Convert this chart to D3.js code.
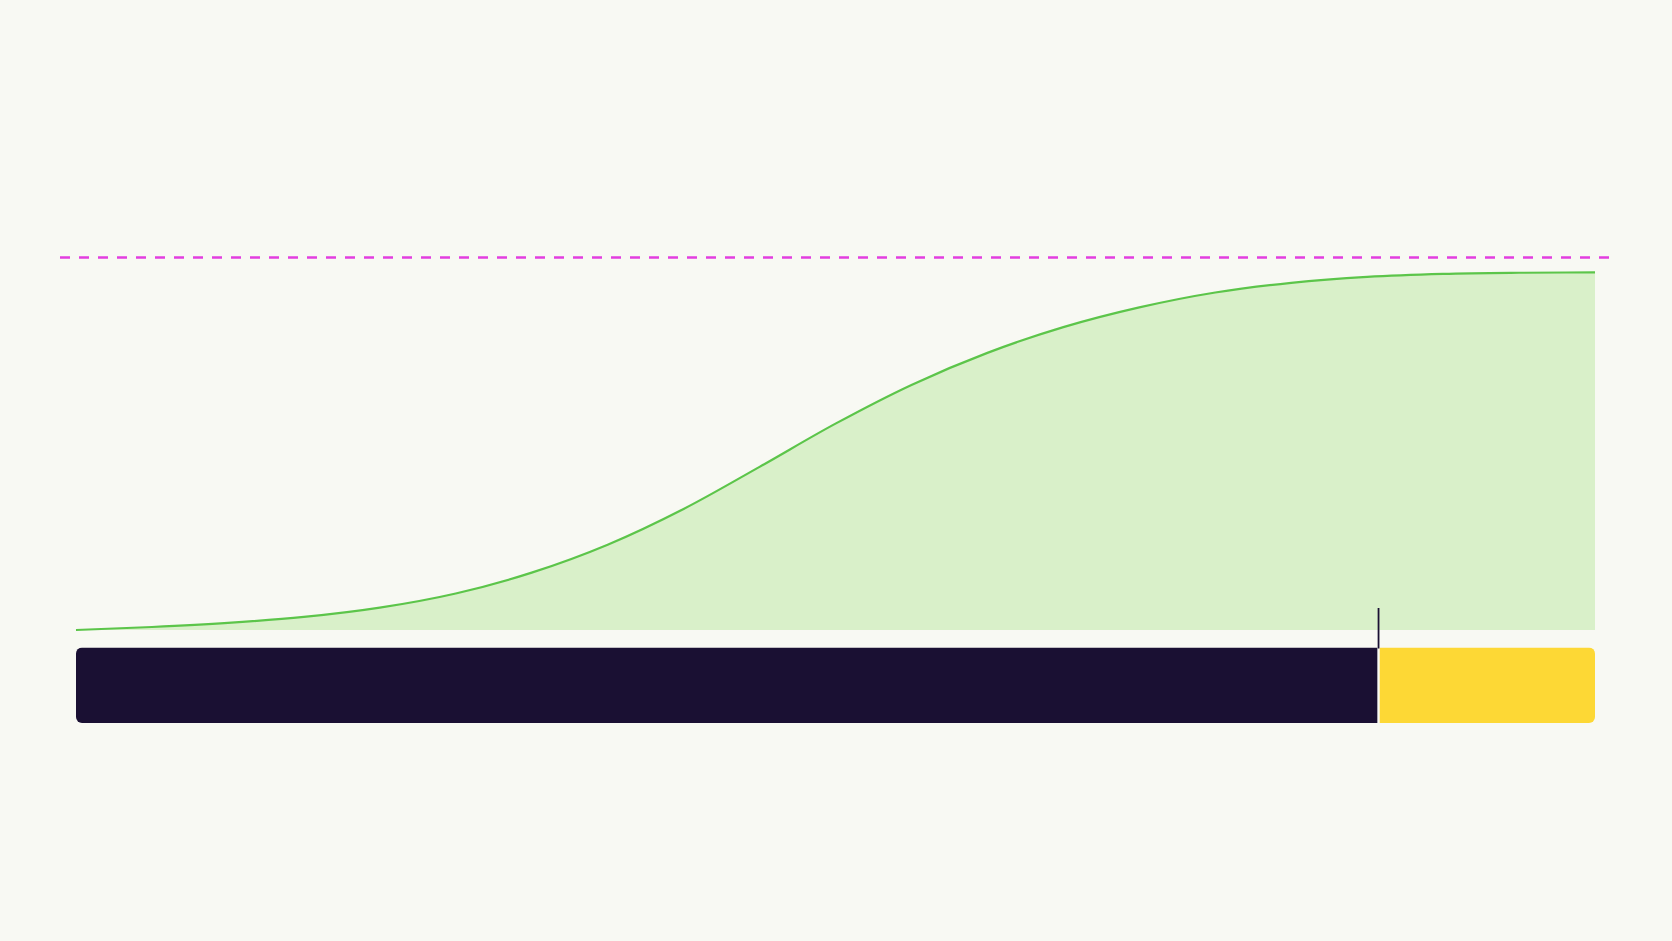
<!DOCTYPE html>
<html>
<head>
<meta charset="utf-8">
<script src="https://cdn.jsdelivr.net/npm/d3@7/dist/d3.min.js"></script>
<style>
  html, body { margin: 0; padding: 0; background: #f8f9f3; }
  svg { display: block; }
</style>
</head>
<body>
<svg id="chart" width="1672" height="941"></svg>
<script>
// ---- data ----
const progressX = [0, 5, 10, 15, 20, 25, 30, 35, 40, 45, 50, 55, 60, 65, 70, 75, 80, 85, 90, 95, 100];
const progressY = [0, 0.8, 1.9, 3.5, 6.0, 9.8, 15.4, 22.9, 32.5, 43.8, 55.4, 65.8, 74.4, 81.3, 86.6, 90.6, 93.2, 94.8, 95.6, 95.9, 96.0];
const capacityLevel = [100];
const timelineDomain = [0, 100];
const splitPoint = [85.75];

// ---- layout ----
const W = 1672, H = 941;
const svg = d3.select("#chart");
svg.append("rect").attr("width", W).attr("height", H).attr("fill", "#f8f9f3");

const x = d3.scaleLinear().domain(timelineDomain).range([76, 1595]);
const y = d3.scaleLinear().domain([0, 100]).range([630, 257.5]);

const pts = progressX.map((v, i) => ({ x: v, y: progressY[i] }));

// area
const area = d3.area()
  .x(d => x(d.x))
  .y0(y(0))
  .y1(d => y(d.y))
  .curve(d3.curveMonotoneX);
svg.append("path").datum(pts).attr("d", area).attr("fill", "#d9f0c9");

// line
const line = d3.line()
  .x(d => x(d.x))
  .y(d => y(d.y))
  .curve(d3.curveMonotoneX);
svg.append("path").datum(pts).attr("d", line)
  .attr("fill", "none").attr("stroke", "#5cc54a").attr("stroke-width", 2.2);

// capacity dashed line
svg.selectAll("line.cap").data(capacityLevel).enter().append("line")
  .attr("class", "cap")
  .attr("x1", x(timelineDomain[0]) - 16)
  .attr("x2", x(timelineDomain[1]) + 17)
  .attr("y1", d => y(d)).attr("y2", d => y(d))
  .attr("stroke", "#e23ee0").attr("stroke-width", 2.6)
  .attr("stroke-dasharray", "10,9");

// timeline bar
const barTop = 647.5, barH = 75.5, r = 6;
const defs = svg.append("defs");
defs.append("clipPath").attr("id", "barClip")
  .append("rect")
  .attr("x", x(timelineDomain[0])).attr("y", barTop)
  .attr("width", x(timelineDomain[1]) - x(timelineDomain[0]))
  .attr("height", barH).attr("rx", r).attr("ry", r);

const bar = svg.append("g").attr("clip-path", "url(#barClip)");
const segs = [
  { a: timelineDomain[0], b: splitPoint[0], color: "#1a1033" },
  { a: splitPoint[0], b: timelineDomain[1], color: "#fdd835" }
];
bar.selectAll("rect").data(segs).enter().append("rect")
  .attr("x", (d, i) => x(d.a) + (i === 1 ? 1.2 : 0))
  .attr("y", barTop)
  .attr("width", (d, i) => x(d.b) - x(d.a) - 1.2)
  .attr("height", barH)
  .attr("fill", d => d.color);

// marker
svg.selectAll("line.marker").data(splitPoint).enter().append("line")
  .attr("class", "marker")
  .attr("x1", d => x(d)).attr("x2", d => x(d))
  .attr("y1", 608).attr("y2", barTop + 1)
  .attr("stroke", "#1a1033").attr("stroke-width", 1.8);
</script>
</body>
</html>
